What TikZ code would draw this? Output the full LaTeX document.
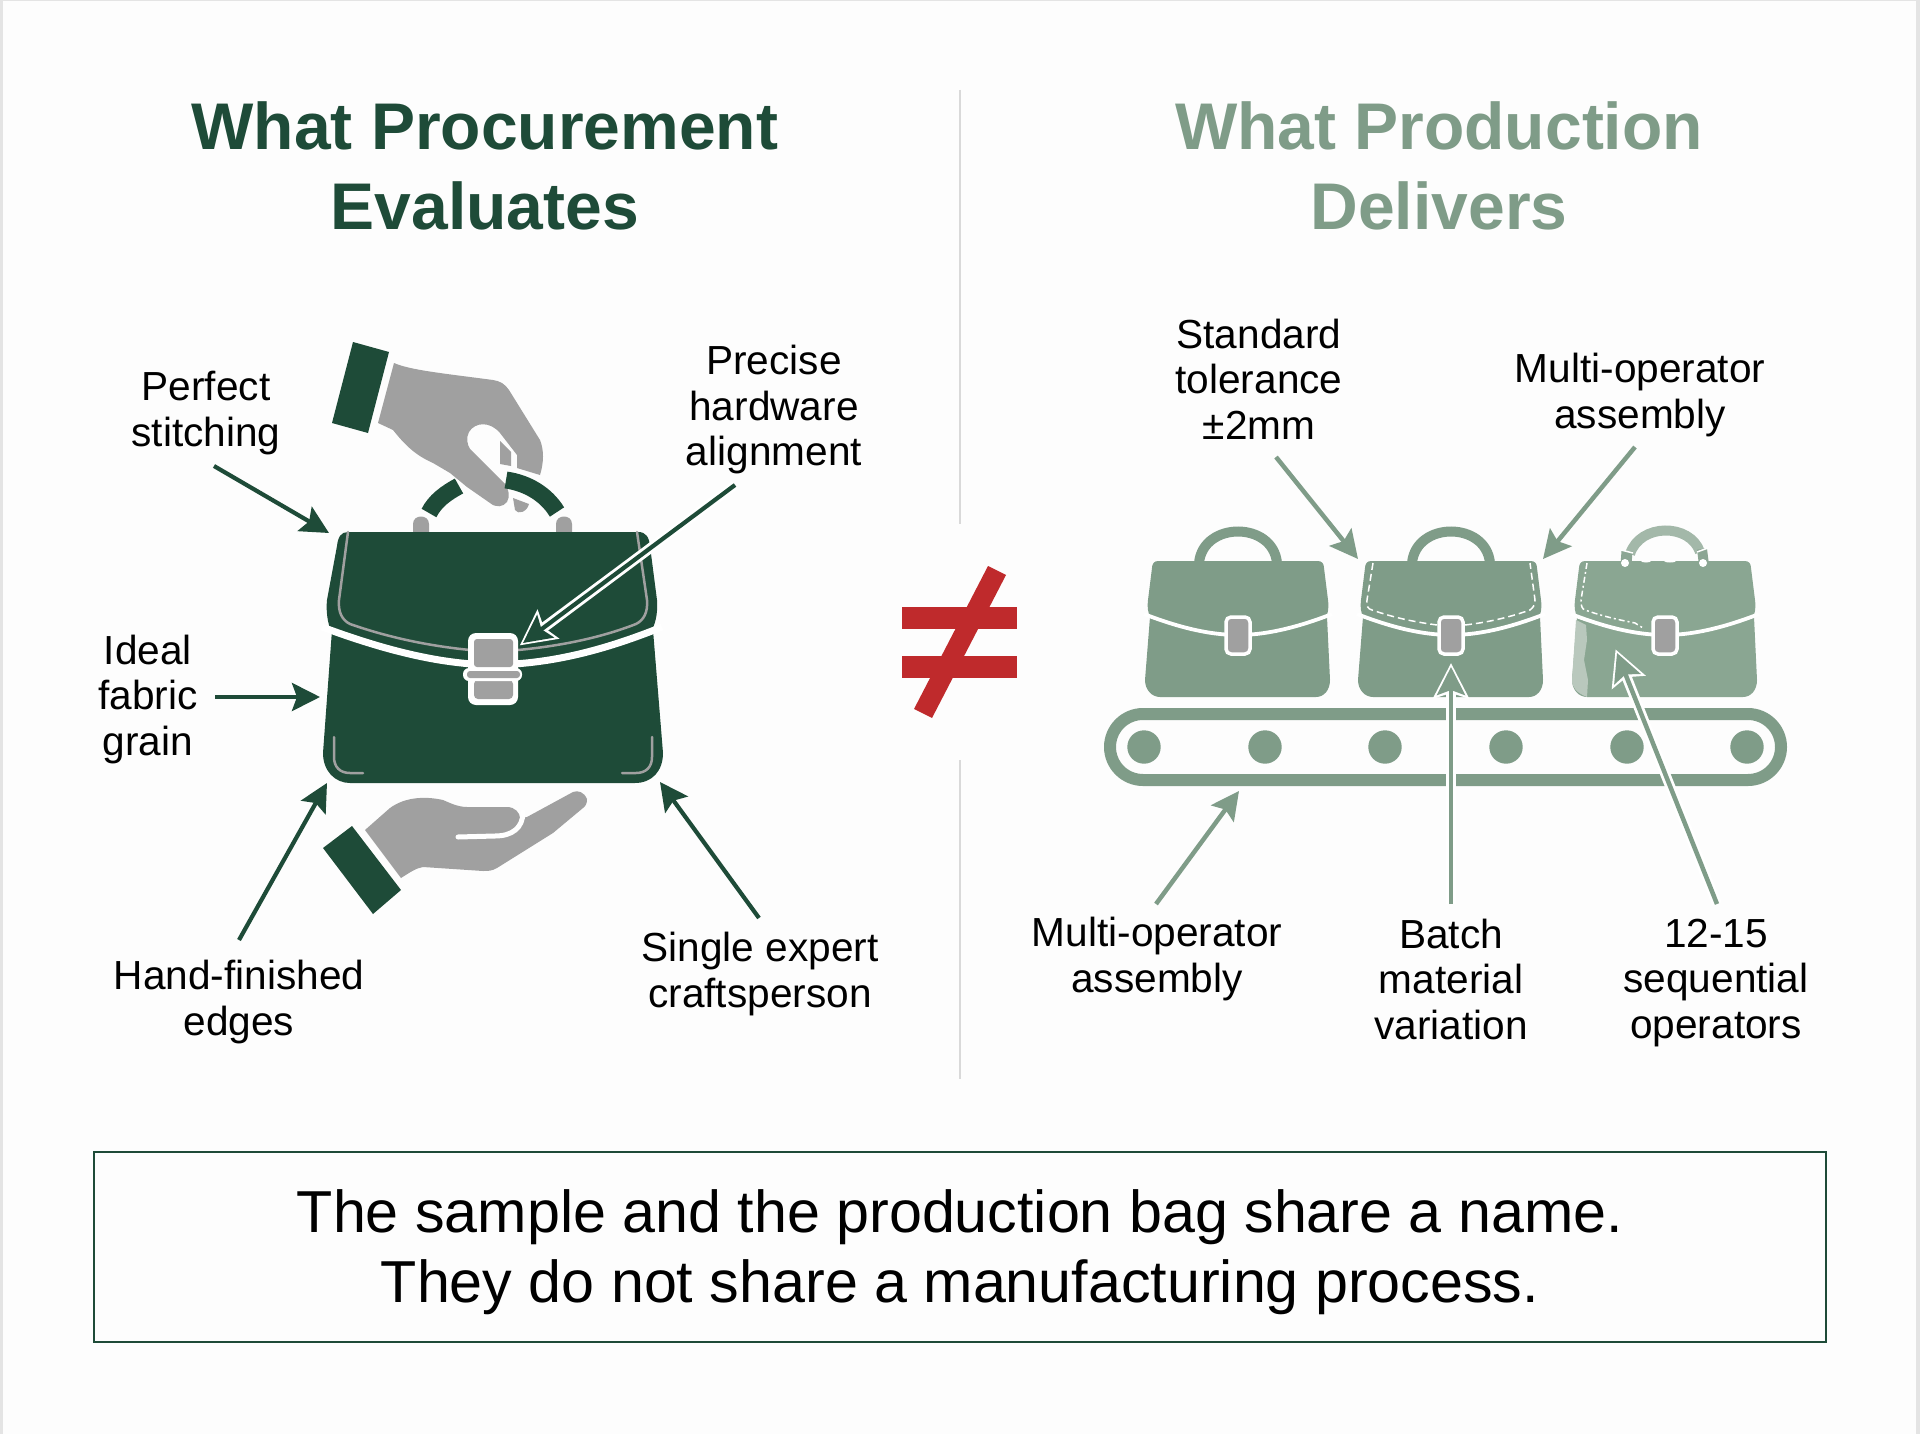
\documentclass[tikz,border=0pt]{standalone}
\usepackage{fontspec}
\setmainfont{Liberation Sans}
\usetikzlibrary{arrows.meta}
\definecolor{dg}{HTML}{1E4B38}
\definecolor{lg}{HTML}{7F9C88}
\definecolor{lgb}{HTML}{8AA692}
\definecolor{hgrey}{HTML}{A0A0A0}
\definecolor{redc}{HTML}{BF2A2C}
\definecolor{bgc}{HTML}{FDFDFD}
\definecolor{edgec}{HTML}{E4E4E4}
\tikzset{
 lbl/.style={align=center,inner sep=0pt,font=\fontsize{40.6}{45.5}\selectfont,text=black},
 ttl/.style={align=center,inner sep=0pt,font=\fontsize{66}{79.5}\selectfont\bfseries},
 arrowd/.style={draw=dg,line width=4.2pt,-{Stealth[length=28pt,width=28pt,inset=5pt]}},
 arrowl/.style={draw=lg,line width=4.5pt,-{Stealth[length=28pt,width=28pt,inset=5pt]}},
 halo/.style={draw=white,line width=10pt,shorten >=-4pt,-{Stealth[length=35pt,width=35pt,inset=5pt]}},
 seam/.style={draw=hgrey,line width=2.5pt,line cap=round},
 band/.style={draw=white,line width=7pt},
 stitch/.style={draw=white,line width=1.5pt,dash pattern=on 7pt off 4pt},
 bhandle/.style={line width=10pt},
}
\newcommand{\minibag}[2]{%
 \begin{scope}[xshift=#1pt]
  \fill[#2] (1158,561) -- (1318,561) .. controls (1322,561) and (1324,564) .. (1324,568) -- (1328,600) .. controls (1329,608) and (1328,613) .. (1326,617) .. controls (1291,630) and (1261,635) .. (1238,635) .. controls (1215,635) and (1185,630) .. (1150,617) .. controls (1148,612) and (1147,607) .. (1148,600) -- (1152,568) .. controls (1152,564) and (1154,561) .. (1158,561) -- cycle;
  \fill[#2] (1150,617) -- (1145,680) .. controls (1145,690) and (1152,697) .. (1160,697) -- (1316,697) .. controls (1324,697) and (1330,690) .. (1330,680) -- (1327,617) .. controls (1291,630) and (1261,635) .. (1238,635) .. controls (1215,635) and (1185,630) .. (1150,617) -- cycle;
  \draw[draw=white,line width=3.8pt] (1144,614) .. controls (1185,630) and (1215,635) .. (1238,635) .. controls (1261,635) and (1291,630) .. (1332,614);
  \filldraw[fill=hgrey,draw=white,line width=3.5pt,rounded corners=5pt] (1226,617) rectangle (1250,654);
 \end{scope}}
\begin{document}
\begin{tikzpicture}[x=1pt,y=-1pt]
\useasboundingbox (0,0) rectangle (1920,1434);
\fill[bgc] (0,0) rectangle (1920,1434);
\fill[edgec] (0,0) rectangle (3,1434);
\fill[edgec] (1916,0) rectangle (1920,1434);
\fill[edgec] (0,0) rectangle (1920,1.5);
% divider
\coordinate (d1) at (960,90); \coordinate (d2) at (960,524);
\coordinate (d3) at (960,760); \coordinate (d4) at (960,1079);
\draw[draw=black!15,line width=2pt] (d1) -- (d2) (d3) -- (d4);
% titles
\node[ttl,text=dg] (t1) at (485,166) {What Procurement\\Evaluates};
\node[ttl,text=lg] (t2) at (1439,166) {What Production\\Delivers};
% top hand
\fill[dg] (353,342) -- (389,352) -- (368,433) -- (332,423) -- cycle;
\fill[hgrey] (394,363) .. controls (410,370) and (440,373) .. (493,380) .. controls (500,381) and (505,384) .. (509,390) -- (540,440) .. controls (544,450) and (544,462) .. (540,475) -- (517,468) -- (517,455) -- (500,433) .. controls (490,421) and (475,422) .. (469,432) .. controls (466,438) and (467,444) .. (470,449) -- (505,484) .. controls (509,489) and (510,497) .. (507,502) .. controls (503,507) and (496,508) .. (490,503) -- (467,487) -- (450,473) -- (433,463) .. controls (415,455) and (405,445) .. (393,430) -- (378,423) -- cycle;
\fill[hgrey] (500,441) -- (511,452) -- (511,466) -- (500,464) -- cycle;
\fill[hgrey] (513,498) -- (529,504) .. controls (527,512) and (518,515) .. (515,510) -- cycle;
% handle
\fill[hgrey] (413,534) -- (413,524) .. controls (413,514) and (429,514) .. (429,524) -- (429,534) -- cycle;
\fill[hgrey] (556,534) -- (556,524) .. controls (556,514) and (572,514) .. (572,524) -- (572,534) -- cycle;
\draw[dg,line width=17pt] (429,513) .. controls (435,501) and (446,493) .. (459,486);
\draw[dg,line width=17pt] (506,480) .. controls (527,483) and (546,494) .. (557,512);
% main bag
\fill[dg] (337,546) .. controls (338,537) and (341,532) .. (348,532) -- (638,532) .. controls (646,532) and (649,537) .. (650,546) -- (657,600) .. controls (658,615) and (655,625) .. (650,634) -- (492,668) -- (332,634) .. controls (327,622) and (326,610) .. (327,600) -- cycle;
\fill[dg] (332,630) -- (323,753) .. controls (323,771) and (335,783) .. (350,783) -- (635,783) .. controls (652,783) and (663,771) .. (663,753) -- (653,630) -- cycle;
\draw[seam] (348,532) -- (339,600) .. controls (338,612) and (342,620) .. (350,624) .. controls (390,638) and (430,646) .. (470,650);
\draw[seam] (637,532) -- (647,600) .. controls (648,612) and (644,620) .. (636,624) .. controls (600,638) and (560,646) .. (518,650);
\draw[band] (322,627) .. controls (400,656) and (450,664) .. (492,665) .. controls (540,664) and (590,656) .. (662,627);
\draw[seam] (334,737) -- (334,757) .. controls (334,767) and (340,773) .. (350,773) -- (363,773);
\draw[seam] (652,737) -- (652,757) .. controls (652,767) and (646,773) .. (636,773) -- (622,773);
% clasp
\fill[white,rounded corners=8pt] (468,633) rectangle (518,705);
\fill[hgrey,rounded corners=3pt] (474,639) rectangle (513,667);
\fill[hgrey,rounded corners=4pt] (474,680) rectangle (513,699);
\fill[white,rounded corners=6pt] (463,668) rectangle (522,681);
\fill[hgrey,rounded corners=3pt] (467,671) rectangle (520,678);
% bottom hand
\fill[dg] (352,826) -- (401,890) -- (373,914) -- (323,848) -- cycle;
\fill[hgrey] (365,830) -- (390,808) .. controls (405,797) and (425,796) .. (443,800) .. controls (450,803) and (458,807) .. (467,807) -- (507,807) .. controls (515,807) and (520,813) .. (520,818) -- (527,817) -- (573,792) .. controls (578,790) and (584,792) .. (587,799) .. controls (587,803) and (586,806) .. (583,808) -- (553,833) -- (497,868) .. controls (492,871) and (488,871) .. (483,871) -- (423,867) .. controls (416,868) and (409,873) .. (401,878) -- cycle;
\draw[draw=white,line width=5pt,line cap=round] (523,812) .. controls (523,828) and (512,836) .. (495,836) -- (458,837);
% minibags
\draw[lg,bhandle] (1199,563) .. controls (1203,521) and (1273,521) .. (1277,563);
\draw[lg,bhandle] (1412,563) .. controls (1416,521) and (1486,521) .. (1490,563);
\draw[lg!72!white,bhandle] (1630,554) .. controls (1640,523) and (1690,523) .. (1700,552);
\minibag{0}{lg}
\minibag{213}{lg}
\minibag{427}{lgb}
\draw[stitch] (1373,563) -- (1367,600) .. controls (1366,606) and (1368,609) .. (1372,610) .. controls (1395,618) and (1415,622) .. (1437,625);
\draw[stitch] (1465,625) .. controls (1490,622) and (1510,617) .. (1530,610) .. controls (1534,607) and (1535,604) .. (1535,600) -- (1530,563);
\draw[draw=white,line width=1.5pt,dash pattern=on 6pt off 3pt on 2pt off 3pt] (1587,563) -- (1581,600) .. controls (1581,606) and (1582,609) .. (1585,610) .. controls (1605,617) and (1620,620) .. (1635,623) -- (1643,628);
\fill[lg!55!white] (1576,620) -- (1572,680) .. controls (1572,688) and (1577,693) .. (1587,697) -- (1588,680) -- (1584,660) -- (1587,640) -- (1586,625) -- cycle;
\draw[lg!90!white,line width=11pt] (1627,551) -- (1626,565);
\draw[lg!90!white,line width=10pt] (1702,549) -- (1704,565);
\draw[white,line width=1.5pt] (1621,550) -- (1633,553);
\draw[white,line width=1.5pt] (1697,552) -- (1708,548);
\fill[white] (1625,563) circle (4pt);
\fill[white] (1703,563) circle (4pt);
\fill[white] (1646,561) ellipse (5pt and 1.5pt);
\fill[white] (1670,561) ellipse (6pt and 1.5pt);
% conveyor
\draw[lg,line width=12pt,rounded corners=33pt] (1110,714) rectangle (1781,780);
\foreach \n/\x in {r1/1144,r2/1265,r3/1385,r4/1506,r5/1627,r6/1747}{\fill[lg] (\x,747) circle (16.7pt);}
% not equal
\fill[redc] (902,607) rectangle (1017,629);
\fill[redc] (902,656) rectangle (1017,678);
\fill[redc] (988,566) -- (1006,575) -- (932,718) -- (914,709) -- cycle;
% labels
\node[lbl] (l1) at (206,413) {Perfect\\stitching};
\node[lbl] (l2) at (774,410) {Precise\\hardware\\alignment};
\node[lbl] (l3) at (148,699) {Ideal\\fabric\\grain};
\node[lbl] (l4) at (239,1002) {Hand-finished\\edges};
\node[lbl] (l5) at (760,974) {Single expert\\craftsperson};
\node[lbl] (r1) at (1259,379) {Standard\\tolerance\\±2mm};
\node[lbl] (r2) at (1640,395) {Multi-operator\\assembly};
\node[lbl] (r3) at (1157,959) {Multi-operator\\assembly};
\node[lbl] (r4) at (1451,979) {Batch\\material\\variation};
\node[lbl] (r5) at (1716,983) {12-15\\sequential\\operators};
% arrows
\coordinate (a1s) at (214,466); \coordinate (a1e) at (329,533);
\coordinate (a2s) at (735,485); \coordinate (a2e) at (523,643);
\coordinate (a3s) at (215,697); \coordinate (a3e) at (320,697);
\coordinate (a4s) at (239,940); \coordinate (a4e) at (327,783);
\coordinate (a5s) at (759,918); \coordinate (a5e) at (660,782);
\coordinate (b1s) at (1276,457); \coordinate (b1e) at (1358,559);
\coordinate (b2s) at (1635,447); \coordinate (b2e) at (1543,559);
\coordinate (b3s) at (1156,904); \coordinate (b3e) at (1239,791);
\coordinate (b4s) at (1451,904); \coordinate (b4e) at (1451,667);
\coordinate (b5s) at (1717,904); \coordinate (b5e) at (1617,653);
\draw[arrowd] (a1s) -- (a1e);
\draw[halo] (a2s) -- (a2e);
\draw[arrowd] (a2s) -- (a2e);
\draw[arrowd] (a3s) -- (a3e);
\draw[arrowd] (a4s) -- (a4e);
\draw[arrowd] (a5s) -- (a5e);
\draw[arrowl] (b1s) -- (b1e);
\draw[arrowl] (b2s) -- (b2e);
\draw[arrowl] (b3s) -- (b3e);
\draw[halo] (b4s) -- (b4e);
\draw[arrowl] (b4s) -- (b4e);
\draw[halo] (b5s) -- (b5e);
\draw[arrowl] (b5s) -- (b5e);
% caption
\node[draw=dg,line width=2pt,minimum width=1732pt,minimum height=190pt,inner sep=0pt] (cap) at (960,1247) {};
\node[align=center,inner sep=0pt,font=\fontsize{59.2}{70}\selectfont,text=black] (capt) at (960,1252) {The sample and the production bag share a name.\\They do not share a manufacturing process.};
\end{tikzpicture}
\end{document}
